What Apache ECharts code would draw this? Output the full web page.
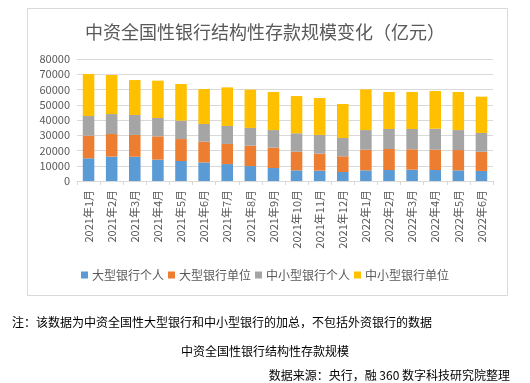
<!DOCTYPE html>
<html>
<head>
<meta charset="utf-8">
<script src="https://cdn.jsdelivr.net/npm/echarts@6/dist/echarts.min.js"></script>
<style>
html,body{margin:0;padding:0;background:#fff;}
#chart{width:530px;height:383px;}
</style>
</head>
<body>
<div id="chart"></div>
<script>
var categories = ['2021年1月','2021年2月','2021年3月','2021年4月','2021年5月','2021年6月','2021年7月','2021年8月','2021年9月','2021年10月','2021年11月','2021年12月','2022年1月','2022年2月','2022年3月','2022年4月','2022年5月','2022年6月'];
var bigPersonal   = [14900,16000,15900,14000,13100,12200,11100,9800,8500,7000,6800,5900,7000,7200,7400,7200,7000,6600];
var bigCorporate  = [14800,14800,14300,15300,14400,13600,13200,13400,13400,12200,11100,10300,13500,13800,13400,13300,13300,12600];
var smallPersonal = [12900,13100,13100,12000,12100,11600,11800,11600,11500,12100,12300,12000,12900,13100,13300,13800,13100,12300];
var smallCorporate= [27600,25600,22900,24500,24000,22900,25300,25100,25000,24400,24200,22300,26700,24300,24300,24700,25000,23800];
var seriesNames = ['大型银行个人','大型银行单位','中小型银行个人','中小型银行单位'];
var yTicks = [0,10000,20000,30000,40000,50000,60000,70000,80000];

var FONT = '"Noto Sans CJK SC", "Noto Sans", sans-serif';
var colors = ['#5B9BD5','#ED7D31','#A5A5A5','#FFC000'];
var dataSets = [bigPersonal, bigCorporate, smallPersonal, smallCorporate];

var chart = echarts.init(document.getElementById('chart'));
chart.setOption({
  animation: false,
  backgroundColor: '#fff',
  color: colors,
  textStyle: {fontFamily: FONT},
  title: [
    {text: '中资全国性银行结构性存款规模变化（亿元）', left: 'center', top: 18,
     textStyle: {fontSize: 18, fontWeight: 'normal', color: '#595959', fontFamily: FONT}},
    {text: '注：该数据为中资全国性大型银行和中小型银行的加总，不包括外资银行的数据', left: 7, top: 311,
     textStyle: {fontSize: 12, fontWeight: 'normal', color: '#000', fontFamily: FONT}},
    {text: '中资全国性银行结构性存款规模', left: 'center', top: 340,
     textStyle: {fontSize: 12, fontWeight: 'normal', color: '#000', fontFamily: FONT}},
    {text: '数据来源：央行，融 360 数字科技研究院整理', right: 15, top: 364,
     textStyle: {fontSize: 12, fontWeight: 'normal', color: '#000', fontFamily: FONT}}
  ],
  graphic: [
    {type: 'rect', shape: {x: 27.5, y: 8.5, width: 480, height: 287},
     style: {fill: 'none', stroke: '#d9d9d9', lineWidth: 1}, silent: true}
  ],
  legend: {
    data: seriesNames, bottom: 97, left: 'center',
    itemWidth: 7, itemHeight: 7, itemGap: 4, icon: 'rect',
    textStyle: {fontSize: 12, color: '#595959', fontFamily: FONT, padding: [0, 0, 0, -1]}
  },
  grid: {left: 77, right: 37, top: 59, bottom: 202, containLabel: false},
  xAxis: {
    type: 'category', data: categories,
    axisLine: {lineStyle: {color: '#d9d9d9'}},
    axisTick: {show: true, alignWithLabel: false, length: 4, lineStyle: {color: '#d9d9d9'}},
    axisLabel: {rotate: 90, fontSize: 11, color: '#595959', margin: 9, interval: 0, fontFamily: FONT}
  },
  yAxis: {
    type: 'value', min: yTicks[0], max: yTicks[yTicks.length-1], interval: yTicks[1]-yTicks[0],
    axisLine: {show: false}, axisTick: {show: false},
    axisLabel: {fontSize: 11, color: '#595959', margin: 7, fontFamily: FONT,
                formatter: function(v){ return String(v); }},
    splitLine: {lineStyle: {color: '#d9d9d9'}}
  },
  series: seriesNames.map(function(n, i){
    return {name: n, type: 'bar', stack: 'total', barWidth: '50%', data: dataSets[i],
            itemStyle: {color: colors[i]}};
  })
});
</script>
</body>
</html>
